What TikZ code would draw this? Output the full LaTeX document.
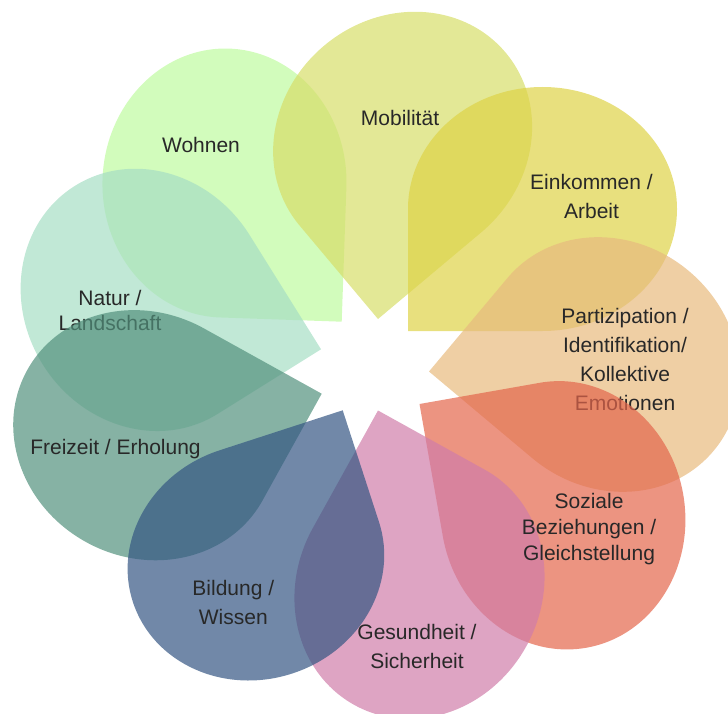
\documentclass[tikz,border=0pt]{standalone}
\usepackage{fontspec}
\setmainfont{Liberation Sans}
\usetikzlibrary{positioning}
\definecolor{natur}{RGB}{166,222,196}
\definecolor{wohnen}{RGB}{191,251,159}
\definecolor{mobil}{RGB}{215,222,105}
\definecolor{einkommen}{RGB}{222,211,71}
\definecolor{partizip}{RGB}{232,186,126}
\definecolor{sozial}{RGB}{228,102,76}
\definecolor{gesund}{RGB}{208,125,169}
\definecolor{bildung}{RGB}{52,86,131}
\definecolor{freizeit}{RGB}{82,145,125}
\definecolor{lbltext}{RGB}{40,40,40}
\tikzset{
    leaf/.style={
           fill=#1,
           fill opacity=0.7,
           draw=none,
           },
    petal/.pic={
           \fill[leaf=#1] (0,0) -- (0,122)
              arc[start angle=180, end angle=-90, x radius=134.5, y radius=122] -- cycle;
           },
}
\tikzset{
    lbl/.style={
           align=center,
           inner sep=0pt,
           text=lbltext,
           font=\fontsize{21}{29}\selectfont,
           },
}

\begin{document}
\begin{tikzpicture}[x=1pt,y=1pt]
\useasboundingbox (0,0) rectangle (728,-714);
\pic[rotate=88] at (341.7,-321.7) {petal=wohnen};
\node[lbl] (wohnen) at (201,-145) {Wohnen};
\pic[rotate=40] at (378,-319) {petal=mobil};
\node[lbl] (mobil) at (400,-117.5) {Mobilität};
\pic at (408,-331) {petal=einkommen};
\node[lbl] (einkommen) at (591.5,-196.5) {Einkommen /\\Arbeit};
\pic[rotate=-40] at (429,-371.5) {petal=partizip};
\node[lbl] (partizip) at (625,-359.5) {Partizipation /\\Identifikation/\\Kollektive\\Emotionen};
\pic[rotate=-80] at (419.5,-404) {petal=sozial};
\pic[rotate=-119] at (378,-410.5) {petal=gesund};
\node[lbl,font=\fontsize{21}{26}\selectfont] (sozial) at (589,-529.5) {Soziale\\Beziehungen /\\Gleichstellung};
\pic[rotate=122] at (321,-349.3) {petal=natur};
\node[lbl,font=\fontsize{21}{24.5}\selectfont] (natur) at (110,-310.5) {Natur /\\Landschaft};
\pic[rotate=151] at (321.7,-393.7) {petal=freizeit};
\pic[rotate=198,scale=0.962] at (342.7,-410.3) {petal=bildung};
\node[lbl] (freizeit) at (115.5,-448.7) {Freizeit / Erholung};
\node[lbl] (bildung) at (233.3,-602) {Bildung /\\Wissen};
\node[lbl] (gesund) at (417,-646) {Gesundheit /\\Sicherheit};
\end{tikzpicture}
\end{document}
